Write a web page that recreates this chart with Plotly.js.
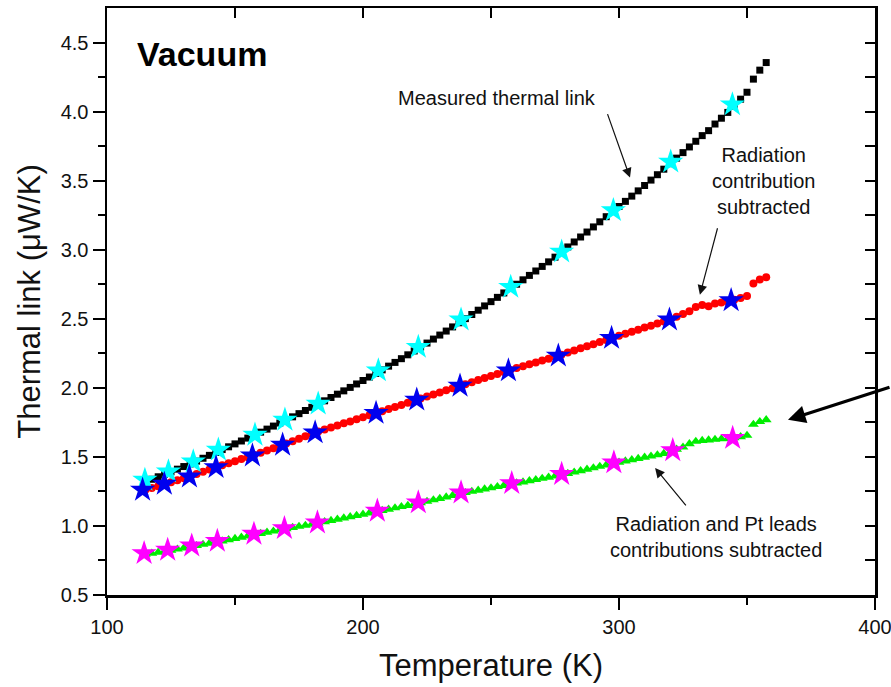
<!DOCTYPE html>
<html>
<head>
<meta charset="utf-8">
<script src="https://cdn.plot.ly/plotly-3.0.1.min.js"></script>
<style>html,body{margin:0;padding:0;background:#fff;}#chart{width:891px;height:687px;}</style>
</head>
<body>
<div id="chart"></div>
<script>
// Temperature grid (K) shared by the three measured/derived series
const temperature = [115,117.5,120,122.5,125,127.5,130,132.5,135,137.5,140,142.5,145,147.5,150,152.5,155,157.5,160,162.5,165,167.5,170,172.5,175,177.5,180,182.5,185,187.5,190,192.5,195,197.5,200,202.5,205,207.5,210,212.5,215,217.5,220,222.5,225,227.5,230,232.5,235,237.5,240,242.5,245,247.5,250,252.5,255,257.5,260,262.5,265,267.5,270,272.5,275,277.5,280,282.5,285,287.5,290,292.5,295,297.5,300,302.5,305,307.5,310,312.5,315,317.5,320,322.5,325,327.5,330,332.5,335,337.5,340,342.5,345,347.5,350,352.5,355,357.5];

// Measured thermal link (black squares)
const measured = [1.320,1.338,1.356,1.374,1.392,1.411,1.430,1.449,1.469,1.490,1.511,1.532,1.553,1.573,1.594,1.615,1.636,1.657,1.679,1.701,1.723,1.745,1.767,1.790,1.813,1.836,1.859,1.882,1.906,1.930,1.954,1.978,2.003,2.028,2.053,2.078,2.104,2.130,2.157,2.184,2.211,2.239,2.267,2.295,2.324,2.353,2.382,2.411,2.441,2.471,2.501,2.531,2.562,2.593,2.624,2.655,2.687,2.719,2.750,2.782,2.814,2.846,2.879,2.912,2.946,2.985,3.020,3.056,3.092,3.128,3.165,3.202,3.239,3.276,3.313,3.350,3.388,3.426,3.465,3.504,3.543,3.583,3.623,3.663,3.703,3.744,3.785,3.826,3.862,3.910,3.952,3.994,4.040,4.090,4.140,4.235,4.300,4.355];

// Radiation contribution subtracted (red circles)
const radSub = [1.262,1.275,1.288,1.303,1.317,1.331,1.345,1.359,1.376,1.392,1.408,1.424,1.439,1.454,1.469,1.484,1.498,1.513,1.530,1.547,1.563,1.580,1.597,1.614,1.632,1.650,1.667,1.683,1.698,1.713,1.728,1.743,1.757,1.772,1.787,1.802,1.817,1.831,1.846,1.861,1.876,1.892,1.907,1.922,1.937,1.952,1.967,1.982,1.997,2.012,2.026,2.041,2.056,2.071,2.085,2.100,2.114,2.129,2.143,2.156,2.170,2.184,2.198,2.211,2.225,2.240,2.255,2.270,2.286,2.301,2.316,2.332,2.347,2.362,2.377,2.392,2.406,2.421,2.436,2.450,2.465,2.480,2.495,2.515,2.535,2.555,2.585,2.600,2.590,2.610,2.618,2.625,2.638,2.650,2.665,2.755,2.785,2.800];

// Radiation and Pt leads contributions subtracted (green triangles)
const radPtSub = [0.795,0.802,0.809,0.816,0.824,0.832,0.840,0.849,0.857,0.866,0.874,0.883,0.891,0.900,0.909,0.918,0.927,0.936,0.945,0.954,0.962,0.971,0.979,0.988,0.996,1.004,1.012,1.020,1.030,1.039,1.048,1.057,1.066,1.075,1.084,1.093,1.102,1.111,1.120,1.130,1.139,1.148,1.158,1.167,1.177,1.188,1.198,1.209,1.220,1.231,1.241,1.250,1.258,1.267,1.275,1.284,1.292,1.301,1.310,1.318,1.327,1.335,1.344,1.352,1.361,1.369,1.379,1.389,1.399,1.410,1.420,1.431,1.441,1.452,1.461,1.470,1.479,1.488,1.497,1.505,1.514,1.524,1.533,1.555,1.570,1.595,1.612,1.618,1.622,1.626,1.630,1.633,1.637,1.645,1.655,1.735,1.755,1.768];

// Star markers (separate measurement points)
const cyanT = [114.8,124.0,133.7,143.5,157.8,169.5,182.5,206.0,221.6,238.3,257.7,277.6,297.8,320.2,344.3];
const cyanV = [1.333,1.393,1.466,1.551,1.659,1.768,1.884,2.125,2.295,2.493,2.730,2.985,3.285,3.636,4.051];
const blueT = [113.9,122.4,132.2,142.6,156.8,168.6,181.3,205.1,221.0,237.9,256.8,276.3,297.1,319.7,343.8];
const blueV = [1.261,1.304,1.357,1.425,1.509,1.587,1.676,1.817,1.913,2.014,2.125,2.232,2.360,2.493,2.633];
const magT = [114.5,123.7,133.1,143.1,157.4,169.3,182.2,205.6,221.6,238.3,258.1,277.6,298.0,321.0,344.4];
const magV = [0.802,0.826,0.857,0.891,0.942,0.983,1.024,1.109,1.169,1.241,1.309,1.375,1.459,1.547,1.636];

const xTickVals = [100,200,300,400];
const yTickVals = [0.5,1.0,1.5,2.0,2.5,3.0,3.5,4.0,4.5];
const yTickText = ['0.5','1.0','1.5','2.0','2.5','3.0','3.5','4.0','4.5'];

const FONT = 'Liberation Sans, Arial, Helvetica, sans-serif';
const XR = [100,400], YR = [0.5,4.75];

const traces = [
  {x: temperature, y: measured, type:'scatter', mode:'markers',
   marker:{symbol:'square', size:7, color:'#000000'}, hoverinfo:'skip'},
  {x: temperature, y: radSub, type:'scatter', mode:'markers',
   marker:{symbol:'circle', size:8, color:'#ff0000'}, hoverinfo:'skip'},
  {x: temperature, y: radPtSub, type:'scatter', mode:'markers',
   marker:{symbol:'triangle-up', size:9.5, color:'#00ee00'}, hoverinfo:'skip'},
  {x: cyanT, y: cyanV, type:'scatter', mode:'markers',
   marker:{symbol:'star', size:19, color:'#00ffff', line:{width:0}}, hoverinfo:'skip'},
  {x: blueT, y: blueV, type:'scatter', mode:'markers',
   marker:{symbol:'star', size:19, color:'#0000ee', line:{width:0}}, hoverinfo:'skip'},
  {x: magT, y: magV, type:'scatter', mode:'markers',
   marker:{symbol:'star', size:19, color:'#ff00ff', line:{width:0}}, hoverinfo:'skip'},
  {x: [], y: [], xaxis:'x2', yaxis:'y2', type:'scatter', mode:'markers', hoverinfo:'skip'}
];

const annFont = {family: FONT, size: 20, color:'#111'};
const layout = {
  width: 891, height: 687,
  margin: {l:107, r:16, t:8, b:92},
  paper_bgcolor:'#ffffff', plot_bgcolor:'#ffffff',
  showlegend:false,
  font:{family: FONT, color:'#111'},
  xaxis: {
    range: XR, showgrid:false, zeroline:false,
    showline:true, linecolor:'#000', linewidth:2.5,
    ticks:'outside', ticklen:12, tickwidth:2, tickcolor:'#000',
    tickvals: xTickVals, ticktext: xTickVals.map(String),
    ticklabeloverflow:'allow',
    tickfont:{family: FONT, size:20, color:'#111'},
    minor:{tickvals:[150,250,350], ticks:'outside', ticklen:7, tickwidth:2, tickcolor:'#000', showgrid:false},
    title:{text:'Temperature (K)', font:{family: FONT, size:31, color:'#111'}, standoff:18},
    automargin:false
  },
  yaxis: {
    range: YR, showgrid:false, zeroline:false,
    showline:true, linecolor:'#000', linewidth:2.5,
    ticks:'outside', ticklen:12, tickwidth:2, tickcolor:'#000',
    tickvals: yTickVals, ticktext: yTickText,
    tickfont:{family: FONT, size:20, color:'#111'},
    minor:{tickvals:[0.75,1.25,1.75,2.25,2.75,3.25,3.75,4.25], ticks:'outside', ticklen:7, tickwidth:2, tickcolor:'#000', showgrid:false},
    title:{text:'Thermal link (\u03BCW/K)', font:{family: FONT, size:31, color:'#111'}, standoff:11},
    automargin:false
  },
  xaxis2: {
    overlaying:'x', side:'top', range: XR, showgrid:false, zeroline:false,
    showline:true, linecolor:'#000', linewidth:2.5,
    ticks:'inside', ticklen:10, tickwidth:2, tickcolor:'#000',
    tickvals:[150,200,250,300,350], showticklabels:false, automargin:false
  },
  yaxis2: {
    overlaying:'y', side:'right', range: YR, showgrid:false, zeroline:false,
    showline:true, linecolor:'#000', linewidth:2.5,
    ticks:'inside', ticklen:10, tickwidth:2, tickcolor:'#000',
    tickvals:[0.75,1.0,1.25,1.5,1.75,2.0,2.25,2.5,2.75,3.0,3.25,3.5,3.75,4.0,4.25,4.5],
    showticklabels:false, automargin:false
  },
  annotations: [
    {x:110.9, y:4.42, xref:'x', yref:'y', text:'<b>Vacuum</b>', showarrow:false,
     xanchor:'left', yanchor:'middle', font:{family: FONT, size:34, color:'#000'}},
    {x:252.5, y:4.10, xref:'x', yref:'y', text:'Measured thermal link', showarrow:false,
     xanchor:'center', yanchor:'middle', font: annFont},
    {x:356.3, y:3.50, xref:'x', yref:'y', text:'Radiation<br>contribution<br>subtracted', showarrow:false,
     xanchor:'center', yanchor:'middle', align:'center', font: annFont},
    {x:337.9, y:0.917, xref:'x', yref:'y', text:'Radiation and Pt leads<br>contributions subtracted', showarrow:false,
     xanchor:'center', yanchor:'middle', align:'center', font: annFont},
    // arrows
    {x:304.3, y:3.522, xref:'x', yref:'y', ax:-23, ay:-65, text:'', showarrow:true,
     arrowhead:2, arrowsize:1.6, arrowwidth:1.2, arrowcolor:'#111'},
    {x:331.6, y:2.674, xref:'x', yref:'y', ax:18, ay:-68, text:'', showarrow:true,
     arrowhead:2, arrowsize:1.6, arrowwidth:1.2, arrowcolor:'#111'},
    {x:314.1, y:1.42, xref:'x', yref:'y', ax:32, ay:39, text:'', showarrow:true,
     arrowhead:2, arrowsize:1.6, arrowwidth:1.2, arrowcolor:'#111'},
    {x:366.0, y:1.768, xref:'x', yref:'y', ax:120, ay:-33, text:'', showarrow:true,
     arrowhead:2, arrowsize:1.1, arrowwidth:3.2, arrowcolor:'#000'}
  ]
};

Plotly.newPlot('chart', traces, layout, {staticPlot:true, displayModeBar:false});
</script>
</body>
</html>
